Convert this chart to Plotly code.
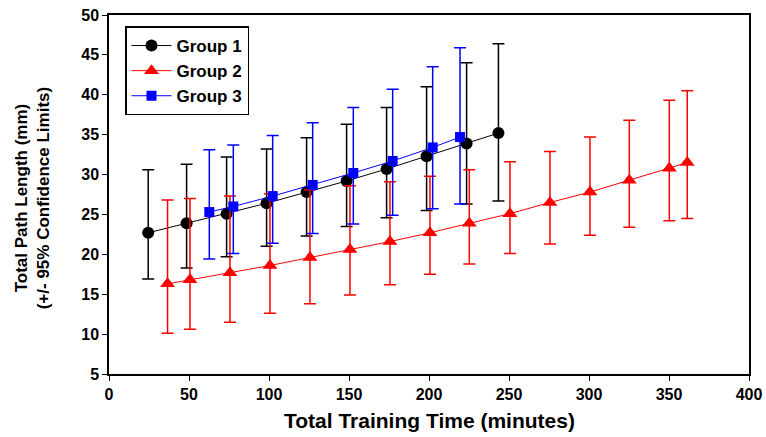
import plotly.graph_objects as go

# Group 1 (black circles)
g1_x = [24.5, 48.5, 73.5, 98.5, 123.5, 148.5, 173.5, 198.5, 223.5, 243.4]
g1_y = [22.7, 23.9, 25.1, 26.4, 27.8, 29.2, 30.7, 32.3, 33.9, 35.2]
g1_hi = [30.6, 31.3, 32.2, 33.2, 34.6, 36.3, 38.4, 41.0, 44.0, 46.4]
g1_lo = [16.9, 18.3, 19.7, 21.0, 22.3, 23.5, 24.6, 25.5, 26.3, 26.7]

# Group 2 (red triangles)
g2_x = [36.6, 50.6, 75.6, 100.6, 125.6, 150.6, 175.6, 200.6, 225.2, 250.6, 275.6, 300.6, 325.2, 350.2, 361.4]
g2_y = [16.3, 16.8, 17.7, 18.6, 19.6, 20.6, 21.6, 22.7, 23.9, 25.1, 26.5, 27.8, 29.3, 30.8, 31.5]
g2_hi = [26.8, 27.0, 27.3, 27.6, 28.1, 28.6, 29.1, 29.8, 30.6, 31.6, 32.9, 34.7, 36.8, 39.3, 40.5]
g2_lo = [10.1, 10.6, 11.5, 12.6, 13.8, 14.9, 16.2, 17.5, 18.8, 20.1, 21.3, 22.4, 23.4, 24.2, 24.5]

# Group 3 (blue squares)
g3_x = [62.7, 77.7, 102.3, 127.3, 152.7, 177.3, 202.3, 219.4]
g3_y = [25.3, 26.0, 27.3, 28.7, 30.2, 31.7, 33.4, 34.7]
g3_hi = [33.1, 33.7, 34.9, 36.5, 38.4, 40.7, 43.5, 45.9]
g3_lo = [19.4, 20.1, 21.4, 22.6, 23.8, 24.9, 25.7, 26.3]

x_ticks = [0, 50, 100, 150, 200, 250, 300, 350, 400]
y_ticks = [5, 10, 15, 20, 25, 30, 35, 40, 45, 50]

x_title = "Total Training Time (minutes)"
y_title = "Total Path Length (mm)<br>(+/- 95% Confidence Limits)"

FONT = "Liberation Sans, Arial, sans-serif"


def make_trace(name, xs, ys, hi, lo, color, symbol, size):
    return go.Scatter(
        x=xs, y=ys, name=name, mode="lines+markers",
        line=dict(color=color, width=1),
        marker=dict(symbol=symbol, size=size, color=color),
        error_y=dict(
            type="data", symmetric=False,
            array=[h - y for h, y in zip(hi, ys)],
            arrayminus=[y - l for l, y in zip(lo, ys)],
            color=color, thickness=1.5, width=6,
        ),
    )


fig = go.Figure()
fig.add_trace(make_trace("Group 1", g1_x, g1_y, g1_hi, g1_lo, "black", "circle", 12))
fig.add_trace(make_trace("Group 2", g2_x, g2_y, g2_hi, g2_lo, "red", "triangle-up", 13))
fig.add_trace(make_trace("Group 3", g3_x, g3_y, g3_hi, g3_lo, "blue", "square", 10))

fig.update_layout(
    width=766, height=437,
    margin=dict(l=109, r=17, t=14.5, b=62.5),
    paper_bgcolor="white", plot_bgcolor="white",
    font=dict(family=FONT, color="black"),
    showlegend=True,
    legend=dict(
        x=0.025, y=0.968, xanchor="left", yanchor="top",
        bordercolor="black", borderwidth=1.5, bgcolor="white",
        font=dict(family=FONT, size=17, color="black", weight="bold"),
        itemwidth=40, tracegroupgap=0,
    ),
    xaxis=dict(
        range=[0, 400], tickvals=x_ticks, ticktext=[str(v) for v in x_ticks],
        showgrid=False, zeroline=False, automargin=False,
        showline=True, linecolor="black", linewidth=1.5, mirror=True,
        ticks="outside", ticklen=5, tickwidth=1, tickcolor="black",
        ticklabeloverflow="allow",
        tickfont=dict(family=FONT, size=16, weight="bold"),
    ),
    yaxis=dict(
        range=[5, 50], tickvals=y_ticks, ticktext=[str(v) for v in y_ticks],
        showgrid=False, zeroline=False, automargin=False,
        showline=True, linecolor="black", linewidth=1.5, mirror=True,
        ticks="outside", ticklen=5, tickwidth=1, tickcolor="black",
        ticklabeloverflow="allow",
        tickfont=dict(family=FONT, size=16, weight="bold"),
    ),
    annotations=[
        dict(text=x_title, xref="paper", yref="paper", x=0.5, y=-0.13,
             xanchor="center", yanchor="middle", showarrow=False,
             font=dict(family=FONT, size=21, weight="bold", color="black")),
        dict(text=y_title, xref="paper", yref="paper", x=-0.12, y=0.49,
             xanchor="center", yanchor="middle", showarrow=False, textangle=-90,
             font=dict(family=FONT, size=17, weight="bold", color="black")),
    ],
)

# remove the default 8px page margin so the figure fills the window exactly
fig.write_html("out.html", config={"displayModeBar": False},
               post_script="document.body.style.margin='0px';")
